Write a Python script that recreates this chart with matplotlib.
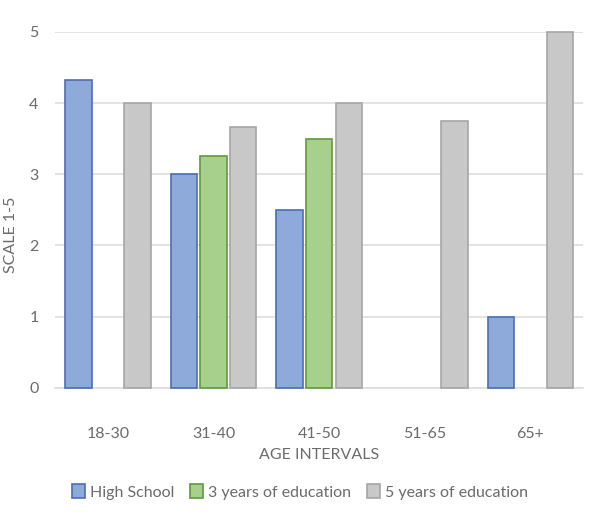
import numpy as np
import matplotlib.pyplot as plt

plt.rcParams['font.family'] = ['Lato', 'DejaVu Sans']

categories = ["18-30", "31-40", "41-50", "51-65", "65+"]
series_names = ["High School", "3 years of education", "5 years of education"]
high_school = [4.33, 3.0, 2.5, 0, 1.0]
three_years = [0, 3.25, 3.5, 0, 0]
five_years = [4.0, 3.67, 4.0, 3.75, 5.0]
yticks = [0, 1, 2, 3, 4, 5]

fills = ["#8eaadb", "#a8d08d", "#c8c8c8"]
edges = ["#4a6fb5", "#5f9a3c", "#a6a6a6"]
text_color = "#6b6b6b"

fig = plt.figure(figsize=(6, 5.15), dpi=100)
ax = fig.add_axes([0.092, 0.247, 0.88, 0.691])

x = np.arange(len(categories))
width = 0.25
offsets = [-0.28, 0.0, 0.28]
for vals, off, fc, ec, name in zip([high_school, three_years, five_years], offsets, fills, edges, series_names):
    vals = np.array(vals, dtype=float)
    keep = vals > 0
    ax.bar(x[keep] + off, vals[keep], width, color=fc, edgecolor=ec, linewidth=1.2,
           label=name, zorder=3, clip_on=False)

ax.set_xlim(-0.5, len(categories) - 0.5)
ax.set_ylim(0, 5)
ax.set_yticks(yticks)
ax.set_xticks(x)
ax.set_xticklabels(categories)
ax.grid(axis='y', color="#dedede", linewidth=1.2, zorder=0)
for s in ['top', 'right', 'left']:
    ax.spines[s].set_visible(False)
ax.spines['bottom'].set_color("#dedede")
ax.spines['bottom'].set_linewidth(1.2)
ax.tick_params(length=0, colors=text_color, labelsize=11.5)
ax.tick_params(axis='x', pad=28)
ax.tick_params(axis='y', pad=12)

ax.set_xlabel("AGE INTERVALS", color=text_color, fontsize=11.5, labelpad=5)
ax.set_ylabel("SCALE 1-5", color=text_color, fontsize=11.5, labelpad=6)
ax.yaxis.set_label_coords(-0.07, 0.43)

fig.legend(loc='center', bbox_to_anchor=(0.5, 0.045), ncol=3, frameon=False,
           fontsize=11.5, labelcolor=text_color, handlelength=0.8, handleheight=1.0,
           handletextpad=0.3, columnspacing=1.0)

fig.savefig("out.png", dpi=100)
